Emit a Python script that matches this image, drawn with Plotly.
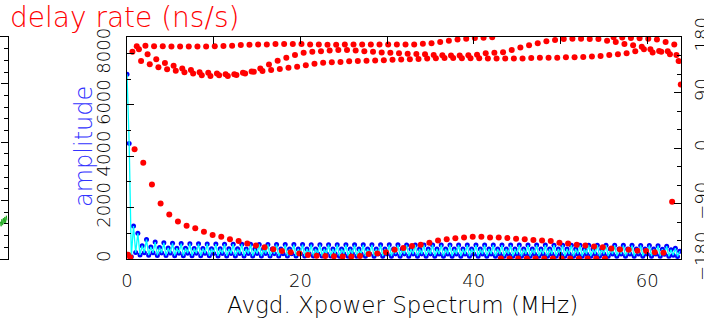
import plotly.graph_objects as go

# ---------------- data ----------------
# amplitude, channels every 0.25 MHz, split by channel index mod 4
amp_r0 = [7190, 250, 245, 240, 235, 230, 228, 225, 222, 220,
          218, 216, 215, 214, 212, 210, 210, 208, 206, 205,
          205, 204, 203, 202, 200, 200, 200, 198, 198, 198,
          196, 196, 195, 195, 195, 195, 194, 194, 194, 193,
          193, 193, 192, 192, 192, 192, 191, 191, 191, 190,
          190, 190, 190, 190, 190, 190, 190, 190, 190, 190,
          190, 190, 185, 150]
amp_r1 = [4500, 1000, 760, 660, 630, 610, 600, 595, 590, 585,
          580, 578, 575, 572, 570, 568, 566, 564, 562, 560,
          560, 558, 556, 555, 555, 554, 553, 552, 551, 550,
          550, 550, 549, 548, 548, 547, 546, 546, 545, 545,
          545, 544, 544, 543, 543, 542, 542, 541, 541, 540,
          540, 540, 539, 538, 537, 536, 535, 534, 532, 530,
          528, 520, 500, 420]
amp_r2 = [90, 160, 150, 140, 135, 130, 128, 126, 124, 122,
          120, 119, 118, 117, 116, 115, 115, 114, 114, 113,
          113, 112, 112, 112, 111, 111, 111, 110, 110, 110,
          110, 110, 110, 110, 110, 110, 110, 110, 110, 110,
          110, 110, 110, 110, 110, 110, 110, 110, 110, 110,
          110, 110, 110, 110, 110, 110, 110, 110, 110, 110,
          110, 110, 105, 100]
amp_r3 = [1284, 520, 470, 445, 430, 420, 415, 410, 405, 400,
          398, 396, 395, 394, 393, 392, 391, 390, 390, 390,
          390, 390, 390, 390, 390, 390, 390, 390, 390, 390,
          390, 390, 390, 390, 390, 390, 390, 390, 390, 390,
          390, 390, 390, 390, 390, 390, 390, 390, 390, 390,
          390, 390, 390, 390, 390, 390, 390, 390, 390, 388,
          385, 380, 360, 300]

# phase (deg), channels offset 0.125 MHz, split by channel index mod 4
ph_r0 = [-173, 165, 166, 165, 165, 164.5, 164.5, 164.5, 164.5, 164.5,
         165, 165.5, 166, 167, 167.5, 168, 168, 168.5, 168.5, 168.5,
         168.5, 168, 168, 167.5, 167.5, 168, 168, 168, 168, 168,
         168, 168, 168, 168, 169, 170, 172, 174, 176, 177.3,
         178.4, 178.9, 179.5, -179, -179, -179, -179, -179, -179, -179,
         -179, -179, -179, -179, -179, -179, 179.5, 179, 178.5, 178,
         177, 176, 172, 168]
ph_r1 = [-177, 160, 152, 144, 138, 133.5, 129, 126.5, 123, 122,
         121, 119.5, 119.5, 122, 124, 129, 135.5, 141.5, 146.5, 151,
         154.5, 156, 157, 158, 159, 159, 158, 157, 156, 155,
         154.5, 153.5, 153, 152.5, 152, 151, 150.5, 150, 150, 150.3,
         151.4, 153.5, 154.6, 155.1, 159, 163, 166.5, 169.7, 173, 175,
         176.7, 177.3, 177.3, 176.7, 176.7, 174, 172, 168.6, 166.5, 164.3,
         160, 157.3, 157, 151]
ph_r2 = [156, 141, 135.7, 130.8, 127.6, 125.4, 122.7, 121, 117.8, 116.7,
         117.8, 116.7, 118.4, 121, 123.8, 124.9, 126.5, 128, 130.3, 131.9,
         134, 136.8, 138.4, 139, 139.5, 140.5, 141, 141.5, 142, 142.5,
         143, 143.5, 144, 144.5, 145, 145.5, 146, 146, 145.5, 145.5,
         145.5, 145, 145, 145, 145, 145, 146, 146.5, 146.5, 146.5,
         147, 147, 147.5, 148.5, 149, 151, 152, 153.5, 156.7, 160,
         155, 156, 152, 141]
ph_r3 = [-2, -24, -59, -90, -108, -119, -126, -130, -136, -141,
         -144, -148, -151, -155, -158, -161, -164, -167, -169, -171,
         -173.5, -174.6, -175, -175.6, -176, -176, -175, -172, -171, -169,
         -165, -162, -159, -157, -153.5, -150, -148, -146.5, -145, -144,
         -144, -145, -145, -146, -147, -148, -149, -150, -151, -153.5,
         -155, -157, -158, -159.6, -161, -163, -164.5, -165, -166.5, -167,
         -169, -170, -87, 103]

# partial neighbour panel (green trace)
nb_x = [0.05, 0.15, 0.25, 0.35, 0.45, 0.55, 0.65, 0.75, 0.85, 0.95]
nb_y = [3.2, 2.8, 3.4, 2.9, 3.5, 3.0, 3.6, 3.1, 3.7, 3.3]

x_ticks = [0, 20, 40, 60]
amp_ticks = [0, 2000, 4000, 6000, 8000]
ph_ticks = [-180, -90, 0, 90, 180]

# ---------------- assemble ----------------
amp_lists = [amp_r0, amp_r1, amp_r2, amp_r3]
amp_x, amp_y = [], []
for i in range(256):
    amp_x.append(0.25 * i)
    amp_y.append(amp_lists[i % 4][i // 4])

ph_lists = [ph_r0, ph_r1, ph_r2, ph_r3]
ph_x, ph_y = [], []
for i in range(256):
    ph_x.append(0.125 + 0.25 * i)
    ph_y.append(ph_lists[i % 4][i // 4])

W, H = 704, 322
L, R, T, B = 127, 681, 37, 259
xd = [L / W, R / W]
yd = [(H - B) / H, (H - T) / H]

FONT = "DejaVu Sans"

fig = go.Figure()
fig.add_trace(go.Scatter(x=amp_x, y=amp_y, mode="markers",
                         marker=dict(color="#0000ff", size=5, line=dict(width=0)),
                         xaxis="x", yaxis="y", showlegend=False))
fig.add_trace(go.Scatter(x=amp_x, y=amp_y, mode="lines",
                         line=dict(color="#00ffff", width=1.3),
                         xaxis="x", yaxis="y", showlegend=False))
fig.add_trace(go.Scatter(x=ph_x, y=ph_y, mode="markers",
                         marker=dict(color="#ff0000", size=6, line=dict(width=0)),
                         xaxis="x", yaxis="y2", showlegend=False))
fig.add_trace(go.Scatter(x=nb_x, y=nb_y, mode="lines",
                         line=dict(color="#22aa22", width=1),
                         xaxis="x3", yaxis="y3", showlegend=False))

tickfont = dict(family=FONT, size=18, color="black", weight=200)

fig.update_layout(
    template="none",
    width=W, height=H,
    margin=dict(l=0, r=0, t=0, b=0, pad=0),
    paper_bgcolor="white", plot_bgcolor="white",
    xaxis=dict(domain=xd, range=[0, 63.9], showgrid=False, zeroline=False,
               automargin=False,
               showline=True, linecolor="black", linewidth=1, mirror="allticks",
               ticks="inside", ticklen=7, tickcolor="black", tickwidth=1,
               tickvals=x_ticks, tickfont=tickfont, ticklabelstandoff=5,
               minor=dict(dtick=10, ticks="inside", ticklen=4, tickcolor="black")),
    yaxis=dict(domain=yd, range=[0, 8640], showgrid=False, zeroline=False,
               automargin=False,
               showline=True, linecolor="black", linewidth=1, mirror=True,
               ticks="inside", ticklen=7, tickcolor="black",
               tickvals=amp_ticks, tickangle=-90, tickfont=tickfont,
               ticklabelstandoff=9,
               minor=dict(dtick=1000, ticks="inside", ticklen=4, tickcolor="black")),
    yaxis2=dict(overlaying="y", side="right", anchor="x", range=[-180, 180],
                automargin=False,
                showgrid=False, zeroline=False, showline=False,
                ticks="inside", ticklen=7, tickcolor="black",
                tickvals=ph_ticks, tickangle=-90, tickfont=tickfont,
                ticklabelstandoff=8,
                minor=dict(dtick=30, ticks="inside", ticklen=4, tickcolor="black")),
    xaxis3=dict(domain=[0, 7.5 / W], range=[0, 1], showgrid=False, zeroline=False,
                automargin=False,
                showline=True, linecolor="black", mirror=True, ticks="",
                showticklabels=False, anchor="y3"),
    yaxis3=dict(domain=yd, range=[0, 19], side="right", anchor="x3",
                automargin=False,
                showgrid=False, zeroline=False, showline=True, linecolor="black",
                ticks="inside", ticklen=7, tickcolor="black", dtick=5,
                showticklabels=False,
                minor=dict(dtick=1, ticks="inside", ticklen=4, tickcolor="black")),
    annotations=[
        dict(text="delay rate (ns/s)", x=8 / W, y=1 - 17 / H, xref="paper", yref="paper",
             xanchor="left", yanchor="middle", showarrow=False,
             font=dict(family=FONT, size=28, color="#ff0000", weight=200)),
        dict(text="amplitude", x=84 / W, y=1 - 147 / H, xref="paper", yref="paper",
             xanchor="center", yanchor="middle", showarrow=False, textangle=-90,
             font=dict(family=FONT, size=24, color="#3333ff", weight=200)),
        dict(text="Avgd. Xpower Spectrum (MHz)", x=403 / W, y=1 - 305 / H,
             xref="paper", yref="paper", xanchor="center", yanchor="middle",
             showarrow=False, font=dict(family=FONT, size=23, color="black", weight=200)),
    ],
)

fig.write_html("out.html", config={"displayModeBar": False},
               post_script="document.body.style.margin='0';document.body.style.padding='0';")
